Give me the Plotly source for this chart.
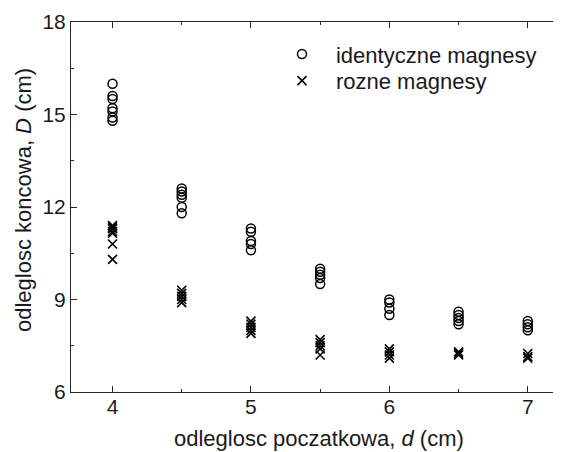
import plotly.graph_objects as go

# Data
d_identical = [4]*7 + [4.5]*6 + [5]*5 + [5.5]*5 + [6]*4 + [6.5]*5 + [7]*4
D_identical = [16.0, 15.6, 15.5, 15.2, 15.1, 14.9, 14.8,
               12.6, 12.5, 12.4, 12.3, 12.0, 11.8,
               11.3, 11.2, 10.9, 10.8, 10.6,
               10.0, 9.9, 9.8, 9.7, 9.5,
               9.0, 8.9, 8.7, 8.5,
               8.6, 8.5, 8.4, 8.3, 8.2,
               8.3, 8.2, 8.1, 8.0]

d_different = [4]*7 + [4.5]*5 + [5]*5 + [5.5]*5 + [6]*4 + [6.5]*3 + [7]*3
D_different = [11.4, 11.35, 11.3, 11.2, 11.15, 10.8, 10.3,
               9.3, 9.2, 9.1, 9.0, 8.9,
               8.3, 8.2, 8.1, 8.0, 7.9,
               7.7, 7.6, 7.5, 7.4, 7.2,
               7.4, 7.3, 7.2, 7.1,
               7.3, 7.25, 7.2,
               7.25, 7.15, 7.1]

series_names = ["identyczne magnesy", "rozne magnesy"]
x_ticks = [4, 5, 6, 7]
y_ticks = [6, 9, 12, 15, 18]

FONT = "Liberation Sans, Arial, sans-serif"
AX = "#262626"
TXT = "#1a1a1a"

fig = go.Figure()
fig.add_trace(go.Scatter(
    x=d_identical, y=D_identical, mode="markers", name=series_names[0],
    legend="legend",
    marker=dict(symbol="circle-open", size=9, color="black", line=dict(width=1.5, color="black")),
))
fig.add_trace(go.Scatter(
    x=d_different, y=D_different, mode="markers", name=series_names[1],
    legend="legend2",
    marker=dict(symbol="x-thin-open", size=9, color="black", line=dict(width=1.6, color="black")),
))

leg_common = dict(xanchor="left", yanchor="top", bgcolor="rgba(0,0,0,0)",
                  font=dict(size=22, family=FONT, color=TXT), itemwidth=58)

# page body has an 8px margin: compensate so the plot lands where the reference has it
fig.update_layout(
    width=553, height=444,
    margin=dict(l=63, r=0, t=14, b=60),
    plot_bgcolor="white", paper_bgcolor="white",
    font=dict(family=FONT, size=22, color=TXT),
    showlegend=True,
    legend=dict(x=0.402, y=0.9695, **leg_common),
    legend2=dict(x=0.402, y=0.8976, **leg_common),
    xaxis=dict(range=[3.7, 7.24], tickvals=x_ticks, ticks="inside", ticklen=6,
               tickcolor=AX, showline=True, linecolor=AX, linewidth=1,
               mirror="ticks", showgrid=False, zeroline=False,
               ticklabelstandoff=-4,
               minor=dict(dtick=0.5, ticks="inside", ticklen=3, tickcolor=AX, showgrid=False),
               tickfont=dict(size=21)),
    yaxis=dict(range=[6, 18], tickvals=y_ticks, ticks="inside", ticklen=6,
               tickcolor=AX, showline=True, linecolor=AX, linewidth=1,
               mirror=False, showgrid=False, zeroline=False,
               minor=dict(dtick=1.5, ticks="inside", ticklen=3, tickcolor=AX, showgrid=False),
               tickfont=dict(size=21)),
    annotations=[
        dict(text="odleglosc poczatkowa, <i>d</i> (cm)", xref="paper", yref="paper",
             x=(319-71)/490, y=0, yshift=-46, xanchor="center", yanchor="middle",
             showarrow=False, font=dict(size=22)),
        dict(text="odleglosc koncowa, <i>D</i> (cm)", xref="paper", yref="paper",
             x=0, xshift=-48, y=(392-200)/370, xanchor="center", yanchor="middle",
             textangle=-90, showarrow=False, font=dict(size=22)),
    ],
)

fig.write_html("out.html")
